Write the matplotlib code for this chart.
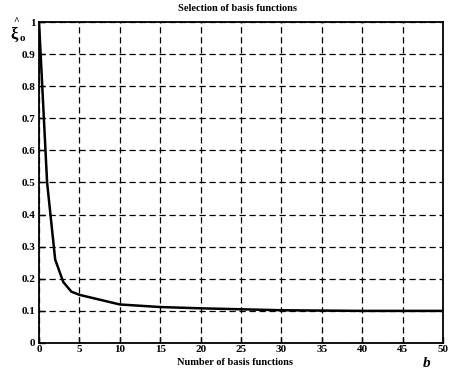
import matplotlib
matplotlib.use("Agg")
import matplotlib.pyplot as plt

b_vals = [0, 1, 2, 3, 4, 5, 10, 15, 20, 25, 30, 35, 40, 45, 50]
xi_vals = [1.0, 0.5, 0.26, 0.19, 0.16, 0.15, 0.12, 0.112, 0.108, 0.105, 0.102, 0.101, 0.1, 0.1, 0.1]
x_ticks = [0, 5, 10, 15, 20, 25, 30, 35, 40, 45, 50]
y_ticks = [0, 0.1, 0.2, 0.3, 0.4, 0.5, 0.6, 0.7, 0.8, 0.9, 1]
y_labels = ["0", "0.1", "0.2", "0.3", "0.4", "0.5", "0.6", "0.7", "0.8", "0.9", "1"]

plt.rcParams['font.family'] = ['Liberation Serif', 'DejaVu Serif']

fig = plt.figure(figsize=(4.5, 3.71), dpi=100)
ax = fig.add_axes([0.0867, 0.0755, 0.8978, 0.8652])
ax.plot(b_vals, xi_vals, color='black', lw=1.8)
ax.set_xlim(0, 50)
ax.set_ylim(0, 1)
ax.set_xticks(x_ticks)
ax.set_xticklabels([str(t) for t in x_ticks], fontsize=8, fontweight='bold')
ax.set_yticks(y_ticks)
ax.set_yticklabels(y_labels, fontsize=8, fontweight='bold')
ax.tick_params(direction='in', length=4, width=1, colors='black')
ax.tick_params(axis='x', pad=1.5)
ax.tick_params(axis='y', pad=2.5)
ax.grid(True, color='black', linestyle=(0, (5, 3)), linewidth=0.9)
for s in ax.spines.values():
    s.set_linewidth(1.3)
fig.text(0.527, 0.976, "Selection of basis functions", fontsize=7.5, fontweight='bold', ha='center', va='center')
fig.text(0.522, 0.022, "Number of basis functions", fontsize=7.5, fontweight='bold', ha='center', va='center')
fig.text(0.947, 0.020, "b", fontsize=11, fontweight='bold', style='italic', ha='center', va='center')
# y label: xi with hat and subscript o
fig.text(0.024, 0.906, "ξ", fontsize=12, ha='left', va='center', fontweight='bold')
fig.text(0.029, 0.943, "^", fontsize=7, ha='left', va='center', fontweight='bold')
fig.text(0.044, 0.896, "o", fontsize=8, ha='left', va='center', fontweight='bold')
fig.savefig("out.png", dpi=100)
